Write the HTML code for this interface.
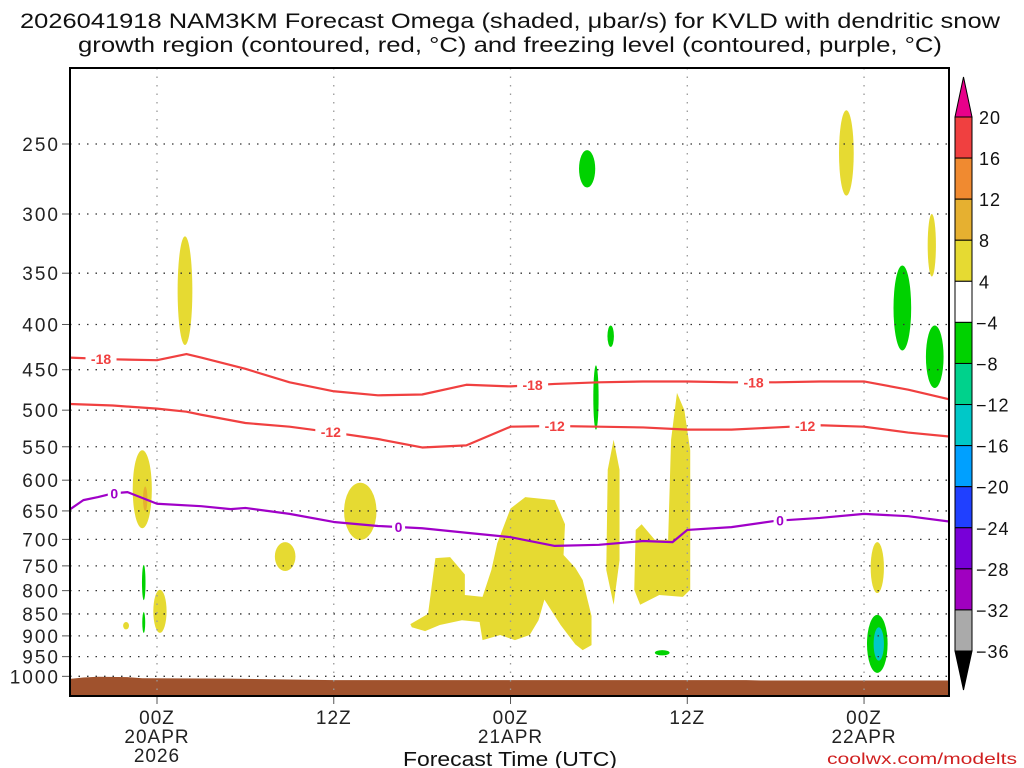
<!DOCTYPE html>
<html><head><meta charset="utf-8"><style>
html,body{margin:0;padding:0;background:#fff;}
svg{display:block;font-family:"Liberation Sans",sans-serif;}
</style></head><body>
<svg id="chart" width="1024" height="768" viewBox="0 0 1024 768">
<defs><clipPath id="clip"><rect x="70" y="68" width="879" height="628"/></clipPath></defs>
<text x="20" y="28" textLength="980" lengthAdjust="spacingAndGlyphs" font-size="21" fill="#111">2026041918 NAM3KM Forecast Omega (shaded, μbar/s) for KVLD with dendritic snow</text>
<text x="78" y="52" textLength="864" lengthAdjust="spacingAndGlyphs" font-size="21" fill="#111">growth region (contoured, red, °C) and freezing level (contoured, purple, °C)</text>
<g id="shade" clip-path="url(#clip)"></g><g id="grid"></g><g id="lines" clip-path="url(#clip)"></g><g id="axes"></g><g id="cbar"></g>
<text x="403" y="766" textLength="214" lengthAdjust="spacingAndGlyphs" font-size="20" fill="#111">Forecast Time (UTC)</text>
<text x="827" y="764" textLength="190" lengthAdjust="spacingAndGlyphs" font-size="16" fill="#d02020">coolwx.com/modelts</text>
</svg>
<script>
// ---- data ----
const pLevels=[250,300,350,400,450,500,550,600,650,700,750,800,850,900,950,1000];
const timeTicks=[0,12,24,36,48];
const timeLabels=["00Z","12Z","00Z","12Z","00Z"];
const dateLabels=["20APR\n2026","","21APR","","22APR"];
const lineHours=[-6,-3,0,2,3,6,9,12,15,18,21,24,27,30,33,36,39,42,45,48,51,54];
const dgzCold=[436,438,439,432,436,449,465,476,481,480,468,470,467,465,464,464,465,465,464,464,474,487];
const dgzWarm=[492,494,498,502,506,517,522,530,539,551,548,522,521,522,523,526,526,523,520,522,530,536];
const frzHours=[-6,-5,-4,-3,-2,0,3,5,6,9,12,15,18,21,24,27,30,33,35,36,39,42,45,48,51,54];
const frzLevel=[649,632,627,621,619,638,642,647,645,655,669,676,680,688,696,712,710,703,705,683,678,667,662,655,659,669];
const sfcHours=[-6,-5,-4,-2,-1,5,12,40,41,54];
const sfcPres=[1007,1003,1001,1002,1005,1006,1010,1010,1011,1011];
// ellipse blobs: hour, pTop, pBottom, half-width (h), omega value
const blobs=[[1.9,318,422,0.5,6],[-1.0,555,680,0.65,6],[-0.8,610,650,0.15,10],[0.2,798,893,0.45,6],[13.8,604,701,1.1,6],
[8.7,705,760,0.7,6],[46.8,229,286,0.5,6],[52.6,300,353,0.28,6],[48.9,705,805,0.45,6],[-2.1,868,885,0.2,6],
[29.2,254,280,0.55,-6],[30.8,401,424,0.22,-6],[29.8,445,526,0.18,-6],[50.6,343,428,0.6,-6],[52.8,401,472,0.6,-6],
[48.9,852,991,0.7,-6],[49.0,880,960,0.35,-14],[-0.9,748,820,0.12,-6],[-0.9,846,893,0.1,-6],[34.3,934,947,0.5,-6],[54.0,526,584,0.15,-6]];
const bigMassH=[17.2,18.4,18.6,18.9,19.9,20.9,20.9,22.1,22.7,23.1,24.0,25.0,27.0,27.7,27.6,28.4,28.9,29.5,29.5,28.9,28.4,27.4,26.3,25.9,25.3,24.3,23.3,22.1,21.9,20.7,19.2,18.2,17.3];
const bigMassP=[873,850,802,735,733,767,809,813,758,707,646,627,632,673,729,754,778,855,922,934,920,875,819,864,898,910,898,910,868,864,875,889,880];
const mass2H=[35.3,35.8,36.2,36.2,35.7,34.1,32.8,32.4,32.5,32.9,33.8,34.7,34.9];
const mass2P=[478,500,555,798,813,809,830,798,683,673,701,701,540];
const mass3H=[31.0,31.4,31.4,31.0,30.5,30.6];
const mass3P=[540,584,739,830,758,584];
const cbLabels=["20","16","12","8","4","−4","−8","−12","−16","−20","−24","−28","−32","−36"];
const cbColors=["#f04040","#f08a30","#e6b030","#e6da32","#ffffff","#00d200","#00d28c","#00c8c8","#00a0ff","#2040ff","#7800d8","#a000c0","#aaaaaa"];
const contourLabels=[[-3.8,"dgz-cold","-18"],[25.5,"dgz-cold","-18"],[40.5,"dgz-cold","-18"],[11.8,"dgz-warm","-12"],[27,"dgz-warm","-12"],[44,"dgz-warm","-12"],[-2.9,"frz","0"],[16.4,"frz","0"],[42.3,"frz","0"]];
// ---- axes ----
const PL=70,PR=949,PT=68,PB=696;
const X=h=>157+h*14.73;
const Y=p=>144+384*Math.log(p/250);
const NS="http://www.w3.org/2000/svg";
function mk(tag,attrs,parent){const e=document.createElementNS(NS,tag);for(const k in attrs)e.setAttribute(k,attrs[k]);document.getElementById(parent).appendChild(e);return e;}
function color(v){if(v>=16)return cbColors[0];if(v>=12)return cbColors[1];if(v>=8)return cbColors[2];if(v>=4)return cbColors[3];if(v>-4)return cbColors[4];if(v>-8)return cbColors[5];if(v>-12)return cbColors[6];if(v>-16)return cbColors[7];return cbColors[8];}
blobs.forEach((b,i)=>{
  const y1=Y(b[1]),y2=Y(b[2]);
  const e=mk('ellipse',{cx:X(b[0]),cy:(y1+y2)/2,rx:b[3]*14.73,ry:(y2-y1)/2,fill:color(b[4])},'shade');
  
  
});
function poly(H,P,name,val){
  const pts=H.map((h,i)=>X(h)+','+Y(P[i])).join(' ');
  const e=mk('polygon',{points:pts,fill:color(val)},'shade');
  
  
}
poly(bigMassH,bigMassP,'omega-rising-region-21apr',6);
poly(mass2H,mass2P,'omega-rising-region-12z',6);
poly(mass3H,mass3P,'omega-rising-narrow-region',6);
// ground
let gp='M'+X(sfcHours[0])+','+PB;sfcHours.forEach((h,i)=>{gp+=' L'+X(h)+','+Y(sfcPres[i]);});gp+=' L'+X(sfcHours[sfcHours.length-1])+','+PB+' Z';
const g=mk('path',{d:gp,fill:'#a0522d'},'shade');


// grid
pLevels.forEach(p=>{
  const l=mk('line',{x1:PL,x2:PR,y1:Y(p),y2:Y(p),stroke:'#333','stroke-width':1.3,'stroke-dasharray':'1.5 7'},'grid');
  
  
  const t=mk('text',{x:60,y:Y(p)+7,'text-anchor':'end','font-size':19,'letter-spacing':2,fill:'#222'},'axes');t.textContent=p;
  
  
  mk('line',{x1:62,x2:PL,y1:Y(p),y2:Y(p),stroke:'#555'},'axes');
});
timeTicks.forEach((h,i)=>{
  const l=mk('line',{x1:X(h),x2:X(h),y1:PT,y2:PB,stroke:'#999','stroke-width':1.3,'stroke-dasharray':'1.5 7'},'grid');
  
  
  mk('line',{x1:X(h),x2:X(h),y1:PB,y2:PB+8,stroke:'#555'},'axes');
  const t=mk('text',{x:X(h),y:724,'text-anchor':'middle','font-size':19,'letter-spacing':1,fill:'#222'},'axes');t.textContent=timeLabels[i];
  
  
  dateLabels[i].split('\n').forEach((s,j)=>{if(!s)return;const d=mk('text',{x:X(h),y:743+j*19,'text-anchor':'middle','font-size':19,'letter-spacing':1,fill:'#222'},'axes');d.textContent=s;
    
    });
});
// contour lines
function line(H,P,col,name){
  const d=H.map((h,i)=>(i?'L':'M')+X(h)+','+Y(P[i])).join(' ');
  const e=mk('path',{d:d,fill:'none',stroke:col,'stroke-width':2.2,'stroke-linejoin':'round'},'lines');
  
  
}
line(lineHours,dgzCold,'#f04040','dgz-cold-contour');
line(lineHours,dgzWarm,'#f04040','dgz-warm-contour');
line(frzHours,frzLevel,'#a000c8','freezing-level-contour');
function interp(H,P,h){for(let i=1;i<H.length;i++){if(h<=H[i]){const f=(h-H[i-1])/(H[i]-H[i-1]);return P[i-1]+f*(P[i]-P[i-1]);}}return P[P.length-1];}
contourLabels.forEach(c=>{
  const src=c[1]==='frz'?[frzHours,frzLevel,'#a000c8']:c[1]==='dgz-cold'?[lineHours,dgzCold,'#f04040']:[lineHours,dgzWarm,'#f04040'];
  const x=X(c[0]),y=Y(interp(src[0],src[1],c[0]));
  const w=c[2].length*9+4;
  mk('rect',{x:x-w/2,y:y-7,width:w,height:14,fill:'#fff'},'lines');
  const t=mk('text',{x:x,y:y+5,'text-anchor':'middle','font-size':14,'font-weight':'bold',fill:src[2]},'lines');t.textContent=c[2];
  
  
});
// frame
const fr=mk('rect',{x:PL,y:PT,width:PR-PL,height:PB-PT,fill:'none',stroke:'#000','stroke-width':2},'axes');


// colorbar
const cbx=955,cbw=17,cbTop=117,seg=(651-117)/13;
const ta=mk('polygon',{points:`${cbx},${cbTop} ${cbx+cbw/2},77 ${cbx+cbw},${cbTop}`,fill:'#e8008a',stroke:'#000'},'cbar');


cbColors.forEach((c,i)=>{
  const r=mk('rect',{x:cbx,y:cbTop+i*seg,width:cbw,height:seg,fill:c,stroke:'#000','stroke-width':1},'cbar');
  
  
});
const ba=mk('polygon',{points:`${cbx},651 ${cbx+cbw/2},690 ${cbx+cbw},651`,fill:'#000',stroke:'#000'},'cbar');


cbLabels.forEach((s,i)=>{
  const t=mk('text',{x:s[0]==='−'?976:979,y:cbTop+i*seg+7,'font-size':18,'letter-spacing':1,fill:'#111'},'cbar');t.textContent=s;
  
  
});
</script>
</body></html>
